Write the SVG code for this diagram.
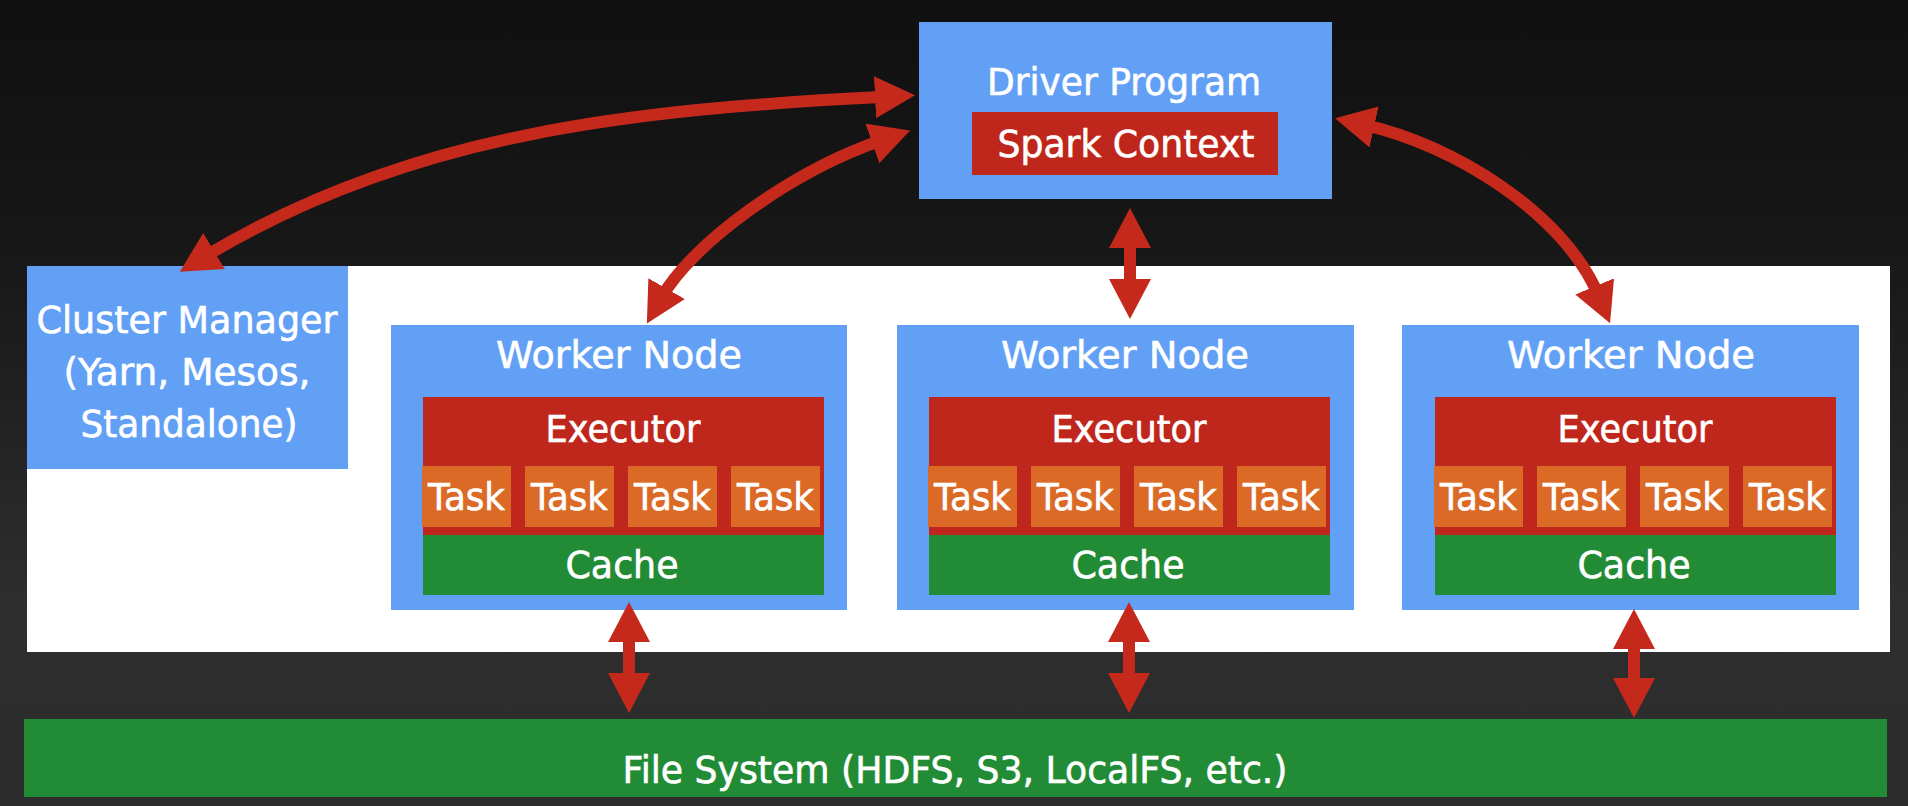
<svg xmlns="http://www.w3.org/2000/svg" width="1908" height="806" viewBox="0 0 1908 806">
<defs>
<linearGradient id="bg" x1="0" y1="0" x2="0" y2="1">
<stop offset="0" stop-color="#101010"/>
<stop offset="0.3" stop-color="#171717"/>
<stop offset="0.75" stop-color="#2e2e2e"/>
<stop offset="1" stop-color="#2c2c2c"/>
</linearGradient>
<marker id="ah" viewBox="0 0 40 42" refX="10" refY="21" markerWidth="40" markerHeight="42" markerUnits="userSpaceOnUse" orient="auto-start-reverse">
<path d="M0,0 L40,21 L0,42 Z" fill="#c5291c"/>
</marker>
<style>
.blue{fill:#61a0f5}
.red{fill:#c0271c}
.orange{fill:#da6a26}
.green{fill:#228b35}
text{font-family:"DejaVu Sans","Liberation Sans",sans-serif;font-size:37px;fill:#ffffff;stroke:#ffffff;stroke-width:0.6;text-anchor:middle}
.conn{fill:none;stroke:#c5291c;stroke-width:12;marker-start:url(#ah);marker-end:url(#ah)}
</style>
</defs>
<rect x="0" y="0" width="1908" height="806" fill="url(#bg)"/>

<g id="cluster-panel">
<rect x="27" y="266" width="1863" height="386" fill="#ffffff"/>
</g>

<g id="driver-program">
<rect class="blue" x="919" y="22" width="413" height="177"/>
<text x="1124" y="95" textLength="274" lengthAdjust="spacingAndGlyphs">Driver Program</text>
<g id="spark-context">
<rect class="red" x="972" y="112" width="306" height="63"/>
<text x="1126" y="157" textLength="257" lengthAdjust="spacingAndGlyphs">Spark Context</text>
</g>
</g>

<g id="cluster-manager">
<rect class="blue" x="27" y="266" width="321" height="203"/>
<text x="187" y="333" textLength="301" lengthAdjust="spacingAndGlyphs">Cluster Manager</text>
<text x="187" y="385" textLength="247" lengthAdjust="spacingAndGlyphs">(Yarn, Mesos,</text>
<text x="189" y="437" textLength="217" lengthAdjust="spacingAndGlyphs">Standalone)</text>
</g>

<g id="worker-node-1">
<rect class="blue" x="391" y="325" width="456" height="285"/>
<text x="619" y="368" textLength="246" lengthAdjust="spacingAndGlyphs">Worker Node</text>
<rect class="red" x="423" y="397" width="401" height="138"/>
<text x="623" y="442" textLength="155" lengthAdjust="spacingAndGlyphs">Executor</text>
<rect class="orange" x="422" y="466" width="89" height="61"/>
<rect class="orange" x="525" y="466" width="89" height="61"/>
<rect class="orange" x="628" y="466" width="89" height="61"/>
<rect class="orange" x="731" y="466" width="89" height="61"/>
<text x="466.5" y="510" textLength="77" lengthAdjust="spacingAndGlyphs">Task</text>
<text x="569.5" y="510" textLength="77" lengthAdjust="spacingAndGlyphs">Task</text>
<text x="672.5" y="510" textLength="77" lengthAdjust="spacingAndGlyphs">Task</text>
<text x="775.5" y="510" textLength="77" lengthAdjust="spacingAndGlyphs">Task</text>
<rect class="green" x="423" y="535" width="401" height="60"/>
<text x="622" y="578" textLength="113" lengthAdjust="spacingAndGlyphs">Cache</text>
</g>

<g id="worker-node-2">
<rect class="blue" x="897" y="325" width="457" height="285"/>
<text x="1125" y="368" textLength="248" lengthAdjust="spacingAndGlyphs">Worker Node</text>
<rect class="red" x="929" y="397" width="401" height="138"/>
<text x="1129" y="442" textLength="155" lengthAdjust="spacingAndGlyphs">Executor</text>
<rect class="orange" x="928" y="466" width="89" height="61"/>
<rect class="orange" x="1031" y="466" width="89" height="61"/>
<rect class="orange" x="1134" y="466" width="89" height="61"/>
<rect class="orange" x="1237" y="466" width="89" height="61"/>
<text x="972.5" y="510" textLength="77" lengthAdjust="spacingAndGlyphs">Task</text>
<text x="1075.5" y="510" textLength="77" lengthAdjust="spacingAndGlyphs">Task</text>
<text x="1178.5" y="510" textLength="77" lengthAdjust="spacingAndGlyphs">Task</text>
<text x="1281.5" y="510" textLength="77" lengthAdjust="spacingAndGlyphs">Task</text>
<rect class="green" x="929" y="535" width="401" height="60"/>
<text x="1128" y="578" textLength="113" lengthAdjust="spacingAndGlyphs">Cache</text>
</g>

<g id="worker-node-3">
<rect class="blue" x="1402" y="325" width="457" height="285"/>
<text x="1631" y="368" textLength="248" lengthAdjust="spacingAndGlyphs">Worker Node</text>
<rect class="red" x="1435" y="397" width="401" height="138"/>
<text x="1635" y="442" textLength="155" lengthAdjust="spacingAndGlyphs">Executor</text>
<rect class="orange" x="1434" y="466" width="89" height="61"/>
<rect class="orange" x="1537" y="466" width="89" height="61"/>
<rect class="orange" x="1640" y="466" width="89" height="61"/>
<rect class="orange" x="1743" y="466" width="89" height="61"/>
<text x="1478.5" y="510" textLength="77" lengthAdjust="spacingAndGlyphs">Task</text>
<text x="1581.5" y="510" textLength="77" lengthAdjust="spacingAndGlyphs">Task</text>
<text x="1684.5" y="510" textLength="77" lengthAdjust="spacingAndGlyphs">Task</text>
<text x="1787.5" y="510" textLength="77" lengthAdjust="spacingAndGlyphs">Task</text>
<rect class="green" x="1435" y="535" width="401" height="60"/>
<text x="1634" y="578" textLength="113" lengthAdjust="spacingAndGlyphs">Cache</text>
</g>

<g id="file-system">
<rect class="green" x="24" y="719" width="1863" height="78"/>
<text x="955" y="783" textLength="665" lengthAdjust="spacingAndGlyphs">File System (HDFS, S3, LocalFS, etc.)</text>
</g>

<g id="connectors">
<path class="conn" d="M205.5,256.2 C411.2,132.4 635,109.3 885,96.8"/>
<path class="conn" d="M661.7,297.3 C692,244 790,172 881.8,140.2"/>
<path class="conn" d="M1364.3,124.8 C1452.1,144.2 1563.9,212.5 1598.5,295.6"/>
<path class="conn" d="M1130,238 L1130,289"/>
<path class="conn" d="M629,632 L629,683"/>
<path class="conn" d="M1129,632 L1129,683"/>
<path class="conn" d="M1634,639 L1634,688"/>
</g>
</svg>
